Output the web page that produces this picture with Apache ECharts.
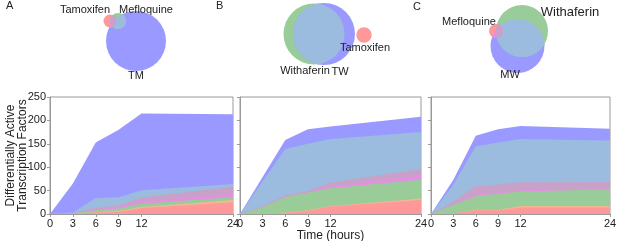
<!DOCTYPE html>
<html>
<head>
<meta charset="utf-8">
<script src="https://cdn.jsdelivr.net/npm/echarts@6/dist/echarts.min.js"></script>
<style>
  html, body { margin: 0; padding: 0; background: #fff; }
  #chart { width: 617px; height: 241px; }
</style>
</head>
<body>
<div id="chart"></div>
<script>
// time points (hours) and axis ticks
const hours = [0, 3, 6, 9, 12, 24]
const yTicks = [0, 50, 100, 150, 200, 250]

// panel A (Tamoxifen + Mefloquine -> TM), stacked layers bottom to top
const aRed = [0, 0, 3, 5, 13, 25]
const aOrange = [0, 0, 1, 2, 2, 5]
const aGreen = [0, 1, 4, 5, 7, 6]
const aMagenta = [0, 0, 2, 3, 4, 8]
const aMauve = [0, 1, 3, 3, 9, 14]
const aLightBlue = [0, 1, 21, 18, 16, 6]
const aBlue = [0, 62, 119, 144, 164, 149]

// panel B (Tamoxifen + Withaferin -> TW)
const bRed = [0, 1, 2, 7, 16, 30]
const bOrange = [0, 0, 1, 1, 1, 3]
const bGreen = [0, 14, 34, 38, 38, 40]
const bMagenta = [0, 1, 1, 2, 3, 9]
const bMauve = [0, 1, 2, 1, 9, 14]
const bLightBlue = [0, 53, 99, 101, 93, 79]
const bBlue = [0, 9, 19, 31, 27, 33]

// panel C (Mefloquine + Withaferin -> MW)
const cRed = [0, 1, 8, 8, 14, 14]
const cOrange = [0, 0, 1, 1, 3, 3]
const cGreen = [0, 19, 29, 35, 31, 36]
const cMagenta = [0, 1, 3, 3, 3, 2]
const cMauve = [0, 5, 19, 16, 17, 13]
const cLightBlue = [0, 37, 85, 90, 92, 89]
const cBlue = [0, 10, 22, 28, 28, 25]

// venn circles: [cx, cy, r] in venn layout units
const vennTamoxA = [110, 21, 6.5]
const vennMefloA = [118, 21, 8]
const vennTM = [136, 41, 30]
const vennWithB = [314, 34, 30.5]
const vennTW = [324, 34, 31]
const vennTamoxB = [364, 35, 7.7]
const vennWithC = [522, 31, 26]
const vennMW = [517.5, 46, 27]
const vennMefloC = [496, 31, 7]

const RED = '#ff9999'
const ORANGE = '#efb993'
const GREEN = '#99cc99'
const MAGENTA = '#e092e0'
const MAUVE = '#c9a0c8'
const LIGHTBLUE = '#9bbbdf'
const BLUE = '#9999ff'
const layerColors = [RED, ORANGE, GREEN, MAGENTA, MAUVE, LIGHTBLUE, BLUE]

const panels = [
  { left: 50, width: 183, layers: [aRed, aOrange, aGreen, aMagenta, aMauve, aLightBlue, aBlue] },
  { left: 240, width: 181, layers: [bRed, bOrange, bGreen, bMagenta, bMauve, bLightBlue, bBlue] },
  { left: 431, width: 179, layers: [cRed, cOrange, cGreen, cMagenta, cMauve, cLightBlue, cBlue] }
]

const font = 'Liberation Sans, Arial, sans-serif'
const frame = '#9a9a9a'

const grid = []
const xAxis = []
const yAxis = []
const series = []

panels.forEach((p, i) => {
  grid.push({
    left: p.left, top: 97, width: p.width, height: 117, outerBoundsMode: 'none',
    show: true, borderColor: frame, borderWidth: 1, backgroundColor: '#fff'
  })
  xAxis.push({
    gridIndex: i, type: 'value', min: 0, max: 24,
    name: i === 1 ? 'Time (hours)' : '', nameLocation: 'middle', nameGap: 12,
    nameTextStyle: { fontFamily: font, fontSize: 12, color: '#222' },
    axisLine: { show: true, lineStyle: { color: frame, width: 1 } },
    axisTick: { show: true, length: 3, customValues: hours, lineStyle: { color: frame } },
    axisLabel: { show: true, customValues: hours, margin: 4, fontFamily: font, fontSize: 11, color: '#222' },
    splitLine: { show: false }
  })
  yAxis.push({
    gridIndex: i, type: 'value', min: 0, max: 250, interval: 50,
    name: i === 0 ? 'Differentially Active\nTranscription Factors' : '',
    nameLocation: 'middle', nameGap: 21, nameRotate: 90, nameMoveOverlap: false,
    nameTextStyle: { fontFamily: font, fontSize: 12, color: '#222', lineHeight: 12 },
    axisLine: { show: true, lineStyle: { color: frame, width: 1 } },
    axisTick: { show: true, length: 3, lineStyle: { color: frame } },
    axisLabel: { show: i === 0, margin: 4, fontFamily: font, fontSize: 11, color: '#222' },
    splitLine: { show: false }
  })
  // running totals of the layers; lower layers are painted over the higher ones
  const running = hours.map(() => 0)
  p.layers.forEach((vals, k) => {
    vals.forEach((v, j) => { running[j] += v })
    series.push({
      type: 'line', xAxisIndex: i, yAxisIndex: i,
      data: hours.map((h, j) => [h, running[j]]),
      showSymbol: false, symbol: 'none', silent: true,
      lineStyle: { width: 0, opacity: 0 },
      areaStyle: { color: layerColors[k], opacity: 1, origin: 'start' },
      z: 20 - k
    })
  })
})

// hidden grid for the venn diagrams (1 unit = 1 px)
grid.push({ left: 0, top: 0, width: 617, height: 90, show: false, outerBoundsMode: 'none' })
xAxis.push({ gridIndex: 3, type: 'value', min: 0, max: 617, show: false })
yAxis.push({ gridIndex: 3, type: 'value', min: 0, max: 90, inverse: true, show: false })

function arcPts(c, t0, t1, n) {
  const pts = []
  for (let i = 0; i <= n; i++) {
    const t = t0 + (t1 - t0) * i / n
    pts.push([c[0] + c[2] * Math.cos(t), c[1] + c[2] * Math.sin(t)])
  }
  return pts
}

function lensPts(a, b) {
  const dx = b[0] - a[0], dy = b[1] - a[1]
  const d = Math.hypot(dx, dy)
  if (d >= a[2] + b[2]) return []
  if (d <= Math.abs(a[2] - b[2])) return arcPts(a[2] < b[2] ? a : b, 0, 2 * Math.PI, 60)
  const tAB = Math.atan2(dy, dx)
  const tBA = tAB + Math.PI
  const alA = Math.acos((d * d + a[2] * a[2] - b[2] * b[2]) / (2 * d * a[2]))
  const alB = Math.acos((d * d + b[2] * b[2] - a[2] * a[2]) / (2 * d * b[2]))
  return arcPts(a, tAB - alA, tAB + alA, 40).concat(arcPts(b, tBA - alB, tBA + alB, 40))
}

const circleItems = [
  [vennTM, BLUE], [vennTamoxA, RED], [vennMefloA, GREEN],
  [vennWithB, GREEN], [vennTW, BLUE], [vennTamoxB, RED],
  [vennMW, BLUE], [vennWithC, GREEN], [vennMefloC, RED]
]
const lensItems = [
  [vennTamoxA, vennTM, MAGENTA], [vennMefloA, vennTM, LIGHTBLUE], [vennTamoxA, vennMefloA, MAUVE],
  [vennWithB, vennTW, LIGHTBLUE],
  [vennWithC, vennMW, LIGHTBLUE], [vennMefloC, vennMW, MAGENTA], [vennMefloC, vennWithC, MAUVE]
]

series.push({
  type: 'custom', xAxisIndex: 3, yAxisIndex: 3, clip: false, silent: true, z: 30,
  data: circleItems.map(([c, col]) => ({ value: c, itemStyle: { color: col } })),
  renderItem: (params, api) => {
    const p = api.coord([api.value(0), api.value(1)])
    const s = api.size([api.value(2), api.value(2)])
    return { type: 'circle', shape: { cx: p[0], cy: p[1], r: s[0] }, style: { fill: api.visual('color') } }
  }
})

series.push({
  type: 'custom', xAxisIndex: 3, yAxisIndex: 3, clip: false, silent: true, z: 31,
  data: lensItems.map(([a, b, col]) => ({ value: a.concat(b), itemStyle: { color: col } })),
  renderItem: (params, api) => {
    const a = [api.value(0), api.value(1), api.value(2)]
    const b = [api.value(3), api.value(4), api.value(5)]
    const pts = lensPts(a, b).map(q => api.coord(q))
    return { type: 'polygon', shape: { points: pts }, style: { fill: api.visual('color') } }
  }
})

function label(text, x, y, size, align) {
  return {
    type: 'text', x: x, y: y, z: 50,
    style: { text: text, fontFamily: font, fontSize: size || 11, fill: '#222', align: align || 'center', verticalAlign: 'middle' }
  }
}

const chart = echarts.init(document.getElementById('chart'), null, { renderer: 'canvas' })
chart.setOption({
  animation: false,
  backgroundColor: '#fff',
  grid: grid,
  xAxis: xAxis,
  yAxis: yAxis,
  series: series,
  graphic: [
    label('A', 6, 6, 11, 'left'),
    label('Tamoxifen', 85, 10),
    label('Mefloquine', 146, 10),
    label('TM', 136, 76),
    label('B', 216, 6, 11, 'left'),
    label('Tamoxifen', 365, 48),
    label('Withaferin', 305, 71),
    label('TW', 340, 72),
    label('C', 413, 7, 11, 'left'),
    label('Withaferin', 570, 12, 13),
    label('Mefloquine', 469, 22),
    label('MW', 510, 75)
  ]
})
</script>
</body>
</html>
